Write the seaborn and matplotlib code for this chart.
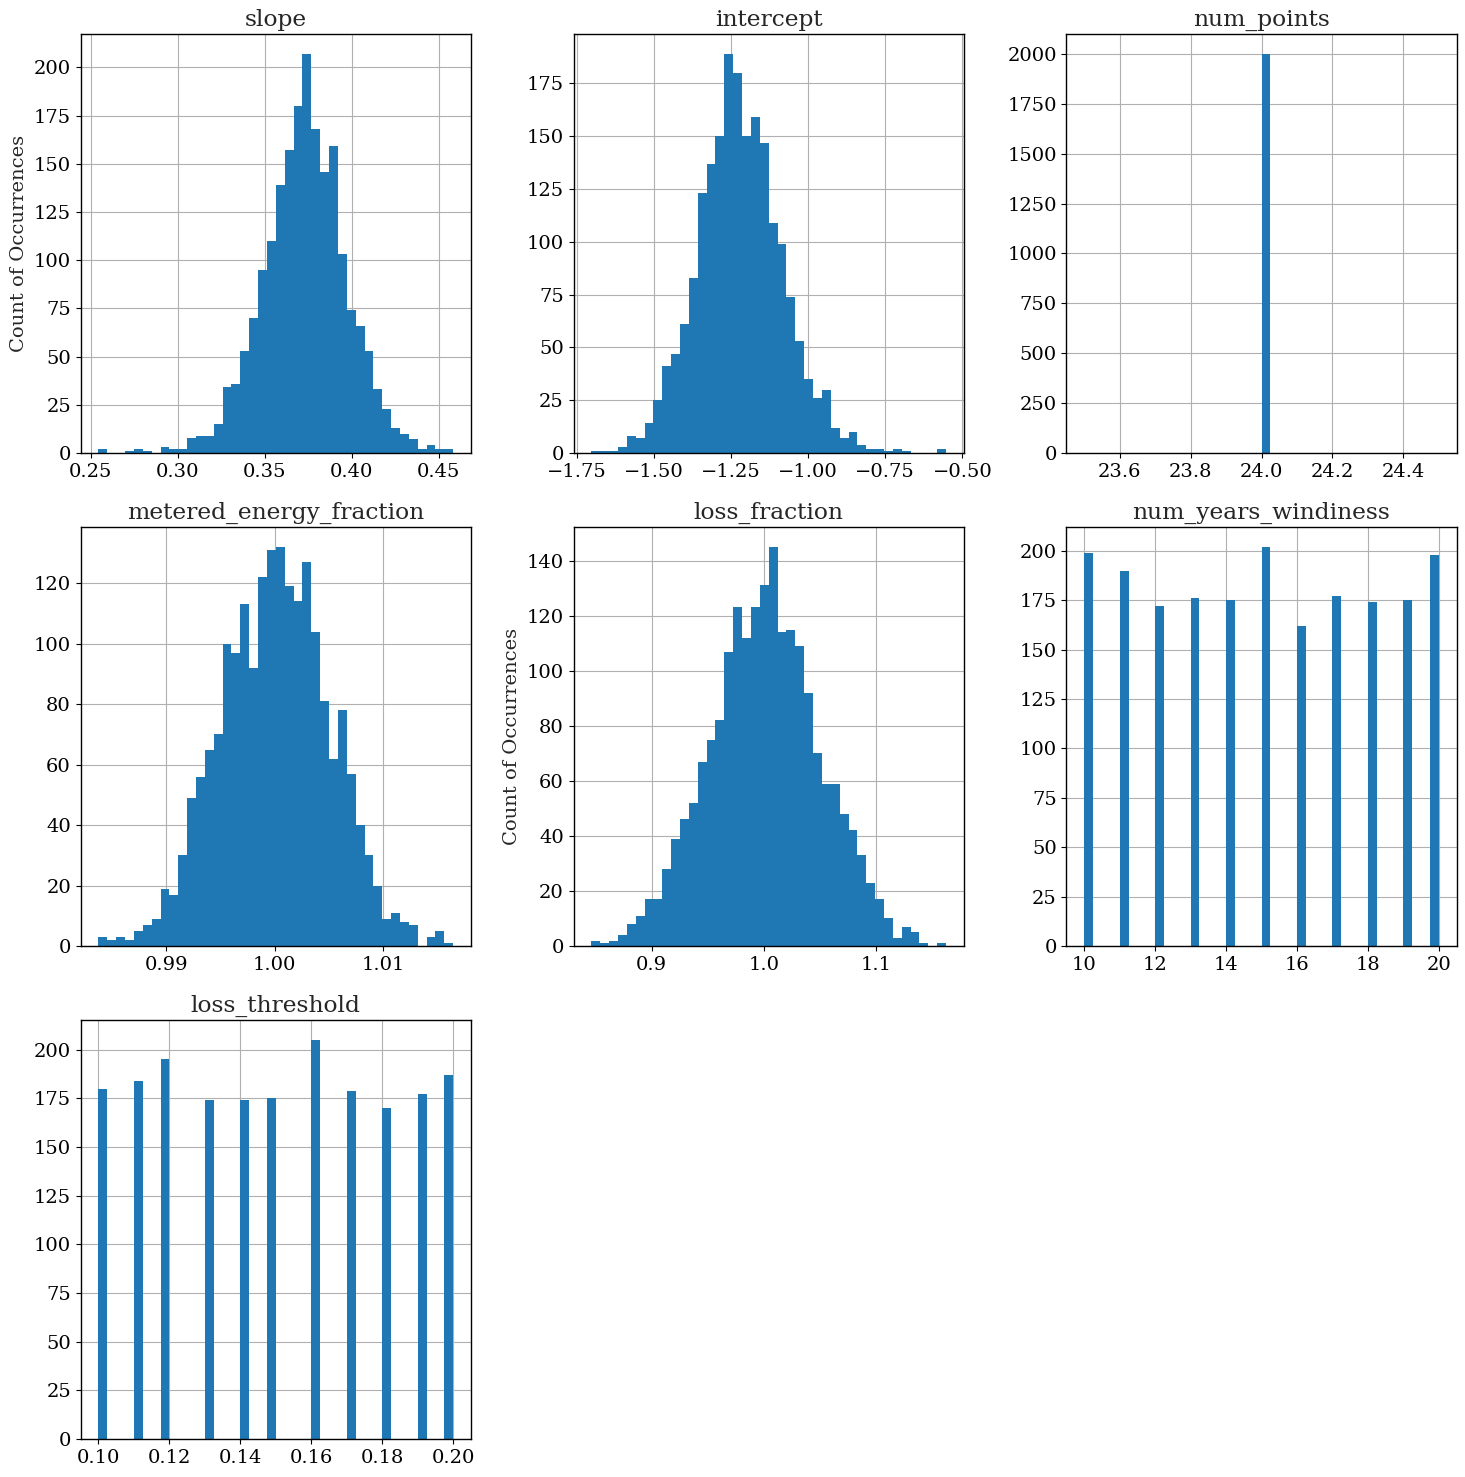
import numpy as np
import pandas as pd
import matplotlib
matplotlib.use("Agg")
import matplotlib.pyplot as plt
import seaborn as sns

# ---- data: counts per bin (40 bins each) and bin ranges ----
titles = ["slope", "intercept", "num_points", "metered_energy_fraction",
          "loss_fraction", "num_years_windiness", "loss_threshold"]

slope_range = (0.2544, 0.4583)
slope_counts = [2, 0, 0, 1, 2, 1, 0, 3, 2, 2,
                8, 9, 9, 15, 34, 36, 53, 70, 95, 110,
                139, 157, 180, 207, 168, 146, 159, 103, 74, 66,
                53, 33, 23, 13, 10, 7, 2, 4, 2, 2]

intercept_range = (-1.7024, -0.553)
intercept_counts = [1, 1, 1, 3, 8, 7, 14, 25, 41, 47,
                    61, 83, 123, 137, 150, 189, 180, 150, 159, 147,
                    109, 99, 74, 53, 35, 26, 30, 12, 7, 10,
                    4, 2, 2, 1, 2, 1, 0, 0, 0, 2]

num_points_range = (23.5, 24.5)
num_points_counts = [0] * 20 + [2000] + [0] * 19

metered_range = (0.98375, 1.01646)
metered_counts = [3, 2, 3, 2, 5, 7, 9, 19, 17, 30,
                  49, 56, 65, 70, 100, 97, 113, 92, 122, 131,
                  132, 119, 114, 127, 104, 81, 62, 78, 57, 40,
                  30, 20, 9, 11, 8, 7, 0, 3, 5, 1]

loss_fraction_range = (0.84613, 1.1622)
loss_fraction_counts = [2, 1, 2, 4, 8, 11, 17, 17, 28, 39,
                        46, 52, 67, 75, 82, 107, 123, 112, 123, 131,
                        145, 114, 115, 109, 92, 70, 59, 59, 48, 42,
                        33, 23, 17, 10, 3, 7, 5, 1, 0, 1]

windiness_range = (10.0, 20.0)
windiness_counts = [199, 0, 0, 0, 190, 0, 0, 0, 172, 0,
                    0, 0, 176, 0, 0, 0, 175, 0, 0, 0,
                    202, 0, 0, 0, 162, 0, 0, 0, 177, 0,
                    0, 0, 174, 0, 0, 0, 175, 0, 0, 198]

threshold_range = (0.10, 0.20)
threshold_counts = [180, 0, 0, 0, 184, 0, 0, 195, 0, 0,
                    0, 0, 174, 0, 0, 0, 174, 0, 0, 175,
                    0, 0, 0, 0, 205, 0, 0, 0, 179, 0,
                    0, 0, 170, 0, 0, 0, 177, 0, 0, 187]

series = [
    (slope_range, slope_counts),
    (intercept_range, intercept_counts),
    (num_points_range, num_points_counts),
    (metered_range, metered_counts),
    (loss_fraction_range, loss_fraction_counts),
    (windiness_range, windiness_counts),
    (threshold_range, threshold_counts),
]

# ---- style ----
sns.set_style("white")
plt.rcParams["font.family"] = ["DejaVu Serif", "serif"]
plt.rcParams["font.size"] = 14
plt.rcParams["axes.titlesize"] = "large"
plt.rcParams["axes.labelsize"] = 14
plt.rcParams["xtick.labelsize"] = 14
plt.rcParams["ytick.labelsize"] = 14
plt.rcParams["axes.edgecolor"] = "black"
plt.rcParams["axes.linewidth"] = 1.0
plt.rcParams["xtick.bottom"] = True
plt.rcParams["ytick.left"] = True
plt.rcParams["xtick.color"] = "black"
plt.rcParams["ytick.color"] = "black"

fig, axes = plt.subplots(3, 3, figsize=(14.65, 14.77), dpi=100)
fig.subplots_adjust(left=0.0551, right=0.9943, top=0.977, bottom=0.0257,
                    wspace=0.263, hspace=0.1766)

flat = axes.ravel()
for ax, title, (rng, counts) in zip(flat, titles, series):
    nb = len(counts)
    edges = np.linspace(rng[0], rng[1], nb + 1)
    df = pd.DataFrame({"value": (edges[:-1] + edges[1:]) / 2,
                       "count": np.asarray(counts, dtype=float)})
    sns.histplot(data=df, x="value", weights="count", bins=nb, binrange=rng,
                 ax=ax, color="#1f77b4", alpha=1.0, linewidth=0,
                 edgecolor="none")
    ax.set_title(title)
    ax.set_xlabel("")
    ax.set_ylabel("")
    ax.grid(True, color="#b0b0b0", linewidth=0.8)
    ax.set_axisbelow(True)
    ax.tick_params(direction="out", length=3.5, width=0.8)
    ax.set_ylim(bottom=0)

flat[0].set_ylabel("Count of Occurrences")
flat[4].set_ylabel("Count of Occurrences")

for ax in flat[len(series):]:
    ax.set_visible(False)

fig.savefig("out.png", dpi=100)
